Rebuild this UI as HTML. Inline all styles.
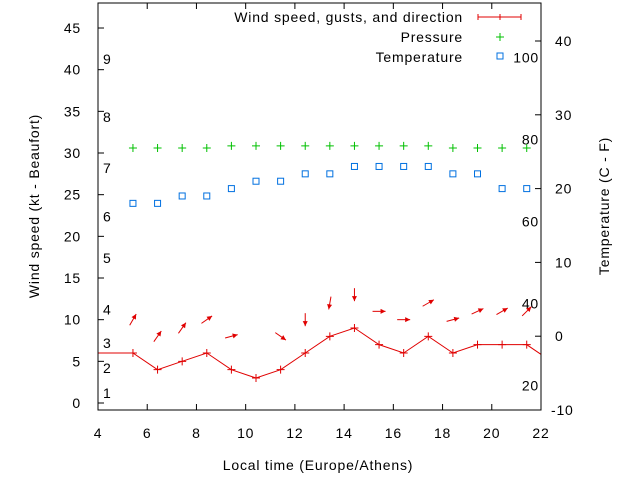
<!DOCTYPE html>
<html><head><meta charset="utf-8"><style>
html,body{margin:0;padding:0;background:#fff;}
svg{display:block;font-family:"Liberation Sans",sans-serif;font-size:14px;letter-spacing:0.8px;}
</style></head><body>
<svg id="chart" width="640" height="480" viewBox="0 0 640 480" xmlns="http://www.w3.org/2000/svg">
<defs><clipPath id="plotclip"><rect x="98" y="3" width="443" height="407"/></clipPath></defs>
<g id="axes"></g>
<g id="marks" clip-path="url(#plotclip)"></g>
<rect x="98" y="3" width="443" height="407" fill="none" stroke="#000" stroke-width="1"/>
<text transform="translate(39,206) rotate(-90)" text-anchor="middle">Wind speed (kt - Beaufort)</text>
<text transform="translate(609,206) rotate(-90)" text-anchor="middle">Temperature (C - F)</text>
<text x="318" y="470" text-anchor="middle">Local time (Europe/Athens)</text>
<g>
<text x="463" y="22" text-anchor="end">Wind speed, gusts, and direction</text>
<line x1="478" y1="17" x2="521" y2="17" stroke="#e00000"/>
<line x1="478" y1="14" x2="478" y2="20" stroke="#e00000"/>
<line x1="521" y1="14" x2="521" y2="20" stroke="#e00000"/>
<line x1="500" y1="14" x2="500" y2="20" stroke="#e00000"/>
<text x="463" y="42" text-anchor="end">Pressure</text>
<path d="M496,37h8M500,33v8" stroke="#00c000"/>
<text x="463" y="62" text-anchor="end">Temperature</text>
<rect x="497" y="53" width="6" height="6" fill="none" stroke="#0070e0"/>
</g>
</svg>
<script>
const hours = [3.42,5.42,6.42,7.42,8.42,9.42,10.42,11.42,12.42,13.42,14.42,15.42,16.42,17.42,18.42,19.42,20.42,21.42,22.42];
const windKt = [6,6,4,5,6,4,3,4,6,8,9,7,6,8,6,7,7,7,5];
const gustKt = [null,10,8,9,10,8,null,8,10,12,13,11,10,12,10,11,11,11,null];
const windDirDeg = [null,60,55,55,35,15,null,-35,-90,-100,-90,0,0,30,15,25,30,45,null];
const pressureScaled = [null,30.6,30.6,30.6,30.6,30.85,30.85,30.85,30.85,30.85,30.85,30.85,30.85,30.85,30.6,30.6,30.6,30.6,null];
const tempC = [null,18,18,19,19,20,21,21,22,22,23,23,23,23,22,22,20,20,null];
const xTicks = [4,6,8,10,12,14,16,18,20,22];
const yTicks = [0,5,10,15,20,25,30,35,40,45];
const y2Ticks = [-10,0,10,20,30,40];
const beaufortLabels = ["1","2","3","4","5","6","7","8","9"];
const beaufortKt = [1.2,4.2,7.2,11.2,17.4,22.4,28.2,34.3,41.3];
const fahrenheitLabels = ["20","40","60","80","100"];
const fahrenheitVals = [20,40,60,80,100];

const NS="http://www.w3.org/2000/svg";
const X = h => 98 + (h-4)*(443/18);
const Y = v => 403 - v*8.333;
const Y2 = c => 410 - (c+10)*7.38;
const F2C = f => (f-32)*5/9;
const axes=document.getElementById('axes'), marks=document.getElementById('marks');
function mk(tag,attrs,parent,txt){const e=document.createElementNS(NS,tag);for(const k in attrs)e.setAttribute(k,attrs[k]);if(txt!==undefined)e.textContent=txt;parent.appendChild(e);return e;}

xTicks.forEach(t=>{
  const x=X(t);
  mk('line',{x1:x,y1:410,x2:x,y2:404,stroke:'#000'},axes);
  mk('line',{x1:x,y1:3,x2:x,y2:9,stroke:'#000'},axes);
  const l=mk('text',{x:x,y:438,'text-anchor':'middle'},axes,String(t));
  
  
});
yTicks.forEach(t=>{
  const y=Y(t);
  mk('line',{x1:98,y1:y,x2:104,y2:y,stroke:'#000'},axes);
  const l=mk('text',{x:81,y:y+5,'text-anchor':'end'},axes,String(t));
  
  
});
y2Ticks.forEach(t=>{
  const y=Y2(t);
  mk('line',{x1:541,y1:y,x2:535,y2:y,stroke:'#000'},axes);
  const l=mk('text',{x:t<0?551:555,y:y+5,'text-anchor':'start'},axes,String(t));
  
  
});
beaufortLabels.forEach((s,i)=>{
  const l=mk('text',{x:103,y:Y(beaufortKt[i])+5},axes,s);
  
  
});
fahrenheitLabels.forEach((s,i)=>{
  const l=mk('text',{x:539,y:Y2(F2C(fahrenheitVals[i]))+5,'text-anchor':'end'},axes,s);
  
  
});

let d='';
hours.forEach((h,i)=>{d+=(i?'L':'M')+X(h)+','+Y(windKt[i]);});
const wl=mk('path',{d:d,fill:'none',stroke:'#e00000','stroke-width':1},marks);


hours.forEach((h,i)=>{
  const x=X(h),y=Y(windKt[i]);
  const p=mk('path',{d:`M${x-4},${y}h8M${x},${y-4}v8`,stroke:'#e00000'},marks);
  
  
});
hours.forEach((h,i)=>{
  if(gustKt[i]===null||windDirDeg[i]===null)return;
  const cx=X(h),cy=Y(gustKt[i]),a=windDirDeg[i]*Math.PI/180,L=6.5;
  const dx=Math.cos(a),dy=-Math.sin(a);
  const x1=cx-dx*L,y1=cy-dy*L,x2=cx+dx*L,y2=cy+dy*L;
  const g=mk('g',{},marks);
  
  
  mk('line',{x1:x1,y1:y1,x2:x2,y2:y2,stroke:'#e00000'},g);
  const px=-dy,py=dx;
  const bx=x2-dx*5,by=y2-dy*5;
  mk('polygon',{points:`${x2},${y2} ${bx+px*2.5},${by+py*2.5} ${bx-px*2.5},${by-py*2.5}`,fill:'#e00000'},g);
});
hours.forEach((h,i)=>{
  if(pressureScaled[i]===null)return;
  const x=X(h),y=Y(pressureScaled[i]);
  const p=mk('path',{d:`M${x-4},${y}h8M${x},${y-4}v8`,stroke:'#00c000'},marks);
  
  
});
hours.forEach((h,i)=>{
  if(tempC[i]===null)return;
  const x=X(h),y=Y2(tempC[i]);
  const r=mk('rect',{x:x-3,y:y-3,width:6,height:6,fill:'none',stroke:'#0070e0'},marks);
  
  
});
</script>
</body></html>
